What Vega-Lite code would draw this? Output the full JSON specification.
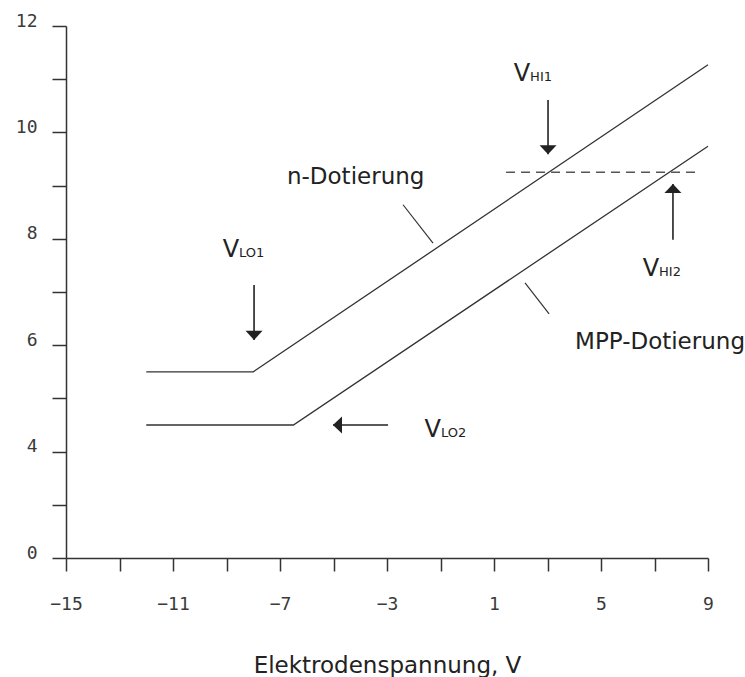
{
  "$schema": "https://vega.github.io/schema/vega-lite/v6.json",
  "autosize": "none",
  "width": 642,
  "height": 532,
  "padding": {"left": 66, "top": 26, "right": 37, "bottom": 119},
  "background": "white",
  "config": {
    "view": {"stroke": null},
    "axis": {"grid": false}
  },
  "datasets": {
    "curves": [
      {"series": "n-Dotierung", "x": -12, "y": 5.5},
      {"series": "n-Dotierung", "x": -8, "y": 5.5},
      {"series": "n-Dotierung", "x": 9, "y": 11.27},
      {"series": "MPP-Dotierung", "x": -12, "y": 4.5},
      {"series": "MPP-Dotierung", "x": -6.5, "y": 4.5},
      {"series": "MPP-Dotierung", "x": 9, "y": 9.74}
    ],
    "threshold": [
      {"x": 1.45, "x2": 8.7, "y": 9.25}
    ],
    "leaders": [
      {"series": "n-Dotierung", "x": -2.4, "y": 8.64, "x2": -1.28, "y2": 7.92},
      {"series": "MPP-Dotierung", "x": 2.16, "y": 7.17, "x2": 3.06, "y2": 6.59}
    ],
    "arrows": [
      {"name": "VLO1", "dir": "down", "x": -7.97, "y": 7.13, "x2": -7.97, "y2": 6.1},
      {"name": "VLO2", "dir": "left", "x": -2.96, "y": 4.5, "x2": -5.02, "y2": 4.5},
      {"name": "VHI1", "dir": "down", "x": 3.02, "y": 10.61, "x2": 3.02, "y2": 9.59},
      {"name": "VHI2", "dir": "up", "x": 7.69, "y": 7.98, "x2": 7.69, "y2": 9.03}
    ],
    "voltages": [
      {"main": "V", "sub": "LO1", "x": -8.53, "y": 7.66},
      {"main": "V", "sub": "LO2", "x": -0.98, "y": 4.27},
      {"main": "V", "sub": "HI1", "x": 2.35, "y": 10.97},
      {"main": "V", "sub": "HI2", "x": 7.17, "y": 7.3}
    ],
    "curveLabels": [
      {"label": "n-Dotierung", "x": -6.74, "y": 9.03},
      {"label": "MPP-Dotierung", "x": 4.03, "y": 5.93}
    ]
  },
  "encoding": {
    "x": {
      "field": "x",
      "type": "quantitative",
      "scale": {"domain": [-15, 9], "nice": false, "zero": false},
      "axis": {
        "values": [-15, -13, -11, -9, -7, -5, -3, -1, 1, 3, 5, 7, 9],
        "labelExpr": "(datum.value + 15) % 4 == 0 ? datum.label : ''",
        "domainColor": "#333333",
        "domainWidth": 1.5,
        "tickColor": "#333333",
        "tickWidth": 1.5,
        "tickSize": 13,
        "labelFont": "DejaVu Sans Mono",
        "labelFontSize": 18,
        "labelColor": "#3a3a3a",
        "labelPadding": 24,
        "labelFlush": false,
        "labelOverlap": false,
        "title": "Elektrodenspannung, V",
        "titleFont": "DejaVu Sans",
        "titleFontSize": 23,
        "titleFontWeight": "normal",
        "titleColor": "#222222",
        "titleBaseline": "alphabetic",
        "titleY": 114
      }
    },
    "y": {
      "field": "y",
      "type": "quantitative",
      "scale": {"domain": [2, 12], "nice": false, "zero": false},
      "axis": {
        "values": [2, 3, 4, 5, 6, 7, 8, 9, 10, 11, 12],
        "labelExpr": "datum.value == 2 ? '0' : (datum.value % 2 == 0 ? datum.label : '')",
        "domainColor": "#333333",
        "domainWidth": 1.5,
        "tickColor": "#333333",
        "tickWidth": 1.5,
        "tickSize": 14,
        "labelFont": "DejaVu Sans Mono",
        "labelFontSize": 18,
        "labelColor": "#3a3a3a",
        "labelPadding": 15,
        "labelBaseline": "alphabetic",
        "labelFlush": false,
        "labelOverlap": false,
        "title": null
      }
    }
  },
  "layer": [
    {
      "data": {"name": "curves"},
      "mark": {"type": "line", "color": "#333333", "strokeWidth": 1.3},
      "encoding": {"detail": {"field": "series"}}
    },
    {
      "data": {"name": "threshold"},
      "mark": {"type": "rule", "color": "#555555", "strokeWidth": 1.4, "strokeDash": [9, 6]},
      "encoding": {"x2": {"field": "x2"}}
    },
    {
      "data": {"name": "leaders"},
      "mark": {"type": "rule", "color": "#333333", "strokeWidth": 1.2},
      "encoding": {"x2": {"field": "x2"}, "y2": {"field": "y2"}}
    },
    {
      "data": {"name": "arrows"},
      "mark": {"type": "rule", "color": "#222222", "strokeWidth": 1.6},
      "encoding": {"x2": {"field": "x2"}, "y2": {"field": "y2"}}
    },
    {
      "data": {"name": "arrows"},
      "mark": {"type": "point", "filled": true, "opacity": 1, "color": "#222222", "size": 289},
      "encoding": {
        "x": {"field": "x2", "type": "quantitative"},
        "y": {"field": "y2", "type": "quantitative"},
        "shape": {
          "field": "dir",
          "type": "nominal",
          "legend": null,
          "scale": {
            "domain": ["down", "up", "left"],
            "range": [
              "M-1,-1.06L1,-1.06L0,0Z",
              "M-1,1.06L1,1.06L0,0Z",
              "M0,0L1.06,-1L1.06,1Z"
            ]
          }
        }
      }
    },
    {
      "data": {"name": "voltages"},
      "mark": {"type": "text", "align": "right", "baseline": "alphabetic", "font": "DejaVu Sans", "fontSize": 24, "color": "#222222"},
      "encoding": {"text": {"field": "main"}}
    },
    {
      "data": {"name": "voltages"},
      "mark": {"type": "text", "align": "left", "baseline": "alphabetic", "font": "DejaVu Sans", "fontSize": 13, "color": "#222222", "dx": 0},
      "encoding": {"text": {"field": "sub"}}
    },
    {
      "data": {"name": "curveLabels"},
      "mark": {"type": "text", "align": "left", "baseline": "alphabetic", "font": "DejaVu Sans", "fontSize": 23, "color": "#222222"},
      "encoding": {"text": {"field": "label"}}
    }
  ]
}
